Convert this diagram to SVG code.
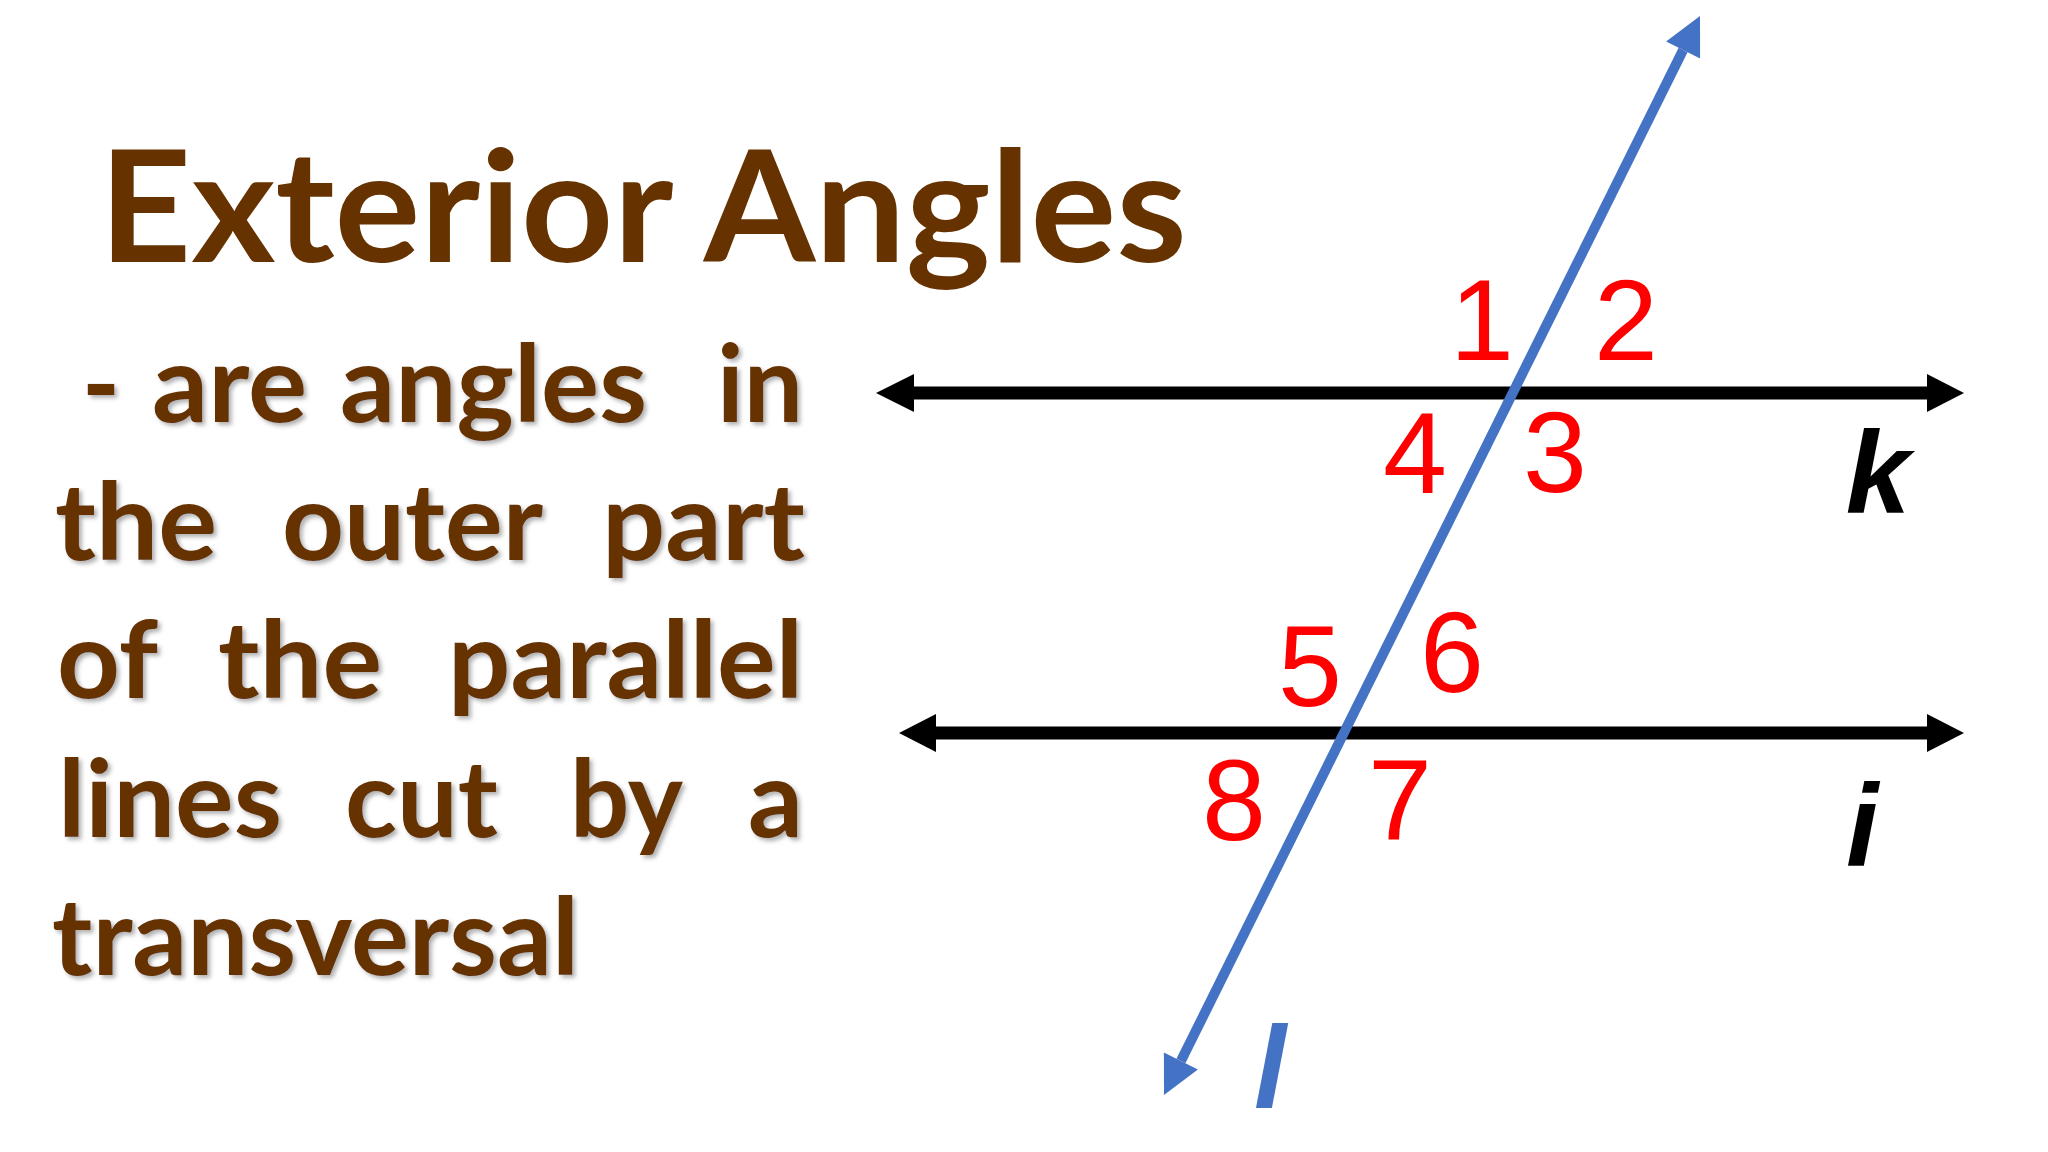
<svg xmlns="http://www.w3.org/2000/svg" width="2048" height="1152" viewBox="0 0 2048 1152">
  <defs>
    <filter id="shadow" x="-10%" y="-10%" width="130%" height="140%">
      <feDropShadow dx="3" dy="3" stdDeviation="2" flood-color="#7f7f7f" flood-opacity="0.6"/>
    </filter>
  </defs>
  <style>
    .title { font-family: Lato, "Open Sans", sans-serif; font-weight: bold; font-size: 155px; fill: #663300; }
    .body { font-family: Lato, "Open Sans", sans-serif; font-weight: bold; font-size: 108px; fill: #663300; }
    .num { font-family: "Liberation Sans", Arial, sans-serif; font-size: 115px; fill: #ff0000; text-anchor: middle; }
    .var { font-family: "Liberation Sans", Arial, sans-serif; font-size: 116px; font-weight: bold; font-style: italic; text-anchor: middle; }
    .par { stroke: #000000; stroke-width: 13; fill: none; }
    .trans { stroke: #4472c4; stroke-width: 10; fill: none; }
    .headK { fill: #000000; }
    .headT { fill: #4472c4; }
  </style>
  <rect width="2048" height="1152" fill="#ffffff"/>

  <g id="title">
    <text class="title" x="99" y="262" textLength="1088" lengthAdjust="spacingAndGlyphs">Exterior Angles</text>
  </g>

  <g id="definition" filter="url(#shadow)">
    <text class="body" x="82" y="422" textLength="38" lengthAdjust="spacingAndGlyphs">-</text>
    <text class="body" x="152" y="422" textLength="155" lengthAdjust="spacingAndGlyphs">are</text>
    <text class="body" x="340" y="422" textLength="307" lengthAdjust="spacingAndGlyphs">angles</text>
    <text class="body" x="717" y="422" textLength="86" lengthAdjust="spacingAndGlyphs">in</text>

    <text class="body" x="55" y="560" textLength="162" lengthAdjust="spacingAndGlyphs">the</text>
    <text class="body" x="282" y="560" textLength="261" lengthAdjust="spacingAndGlyphs">outer</text>
    <text class="body" x="602" y="560" textLength="203" lengthAdjust="spacingAndGlyphs">part</text>

    <text class="body" x="57" y="698" textLength="101" lengthAdjust="spacingAndGlyphs">of</text>
    <text class="body" x="218" y="698" textLength="164" lengthAdjust="spacingAndGlyphs">the</text>
    <text class="body" x="448" y="698" textLength="355" lengthAdjust="spacingAndGlyphs">parallel</text>

    <text class="body" x="58" y="837" textLength="224" lengthAdjust="spacingAndGlyphs">lines</text>
    <text class="body" x="345" y="837" textLength="153" lengthAdjust="spacingAndGlyphs">cut</text>
    <text class="body" x="570" y="837" textLength="113" lengthAdjust="spacingAndGlyphs">by</text>
    <text class="body" x="748" y="837" textLength="55" lengthAdjust="spacingAndGlyphs">a</text>

    <text class="body" x="52" y="975" textLength="527" lengthAdjust="spacingAndGlyphs">transversal</text>
  </g>

  <g id="connectors">
    <g id="line-k">
      <line class="par" x1="910" y1="393" x2="1932" y2="393"/>
      <polygon class="headK" points="876,393 914,374 914,412"/>
      <polygon class="headK" points="1964,393 1927,374 1927,412"/>
    </g>
    <g id="line-i">
      <line class="par" x1="932" y1="733" x2="1932" y2="733"/>
      <polygon class="headK" points="899,733 936,714 936,752"/>
      <polygon class="headK" points="1964,733 1927,714 1927,752"/>
    </g>
    <g id="line-l">
      <line class="trans" x1="1180.9" y1="1061" x2="1683.1" y2="50"/>
      <polygon class="headT" points="1700,16 1700.1,58.5 1666.1,41.6"/>
      <polygon class="headT" points="1164,1095 1197.9,1069.5 1163.9,1052.6"/>
    </g>
  </g>

  <g id="angle-labels">
    <text class="num" x="1482" y="360">1</text>
    <text class="num" x="1626" y="360">2</text>
    <text class="num" x="1415" y="493">4</text>
    <text class="num" x="1555" y="492">3</text>
    <text class="num" x="1310" y="706">5</text>
    <text class="num" x="1452" y="692">6</text>
    <text class="num" x="1234" y="840">8</text>
    <text class="num" x="1400" y="840">7</text>
  </g>

  <g id="line-labels">
    <text class="var" x="1878" y="513" fill="#000000">k</text>
    <text class="var" x="1862" y="866" fill="#000000">i</text>
    <text class="var" x="1270" y="1108" fill="#4472c4">l</text>
  </g>
</svg>
